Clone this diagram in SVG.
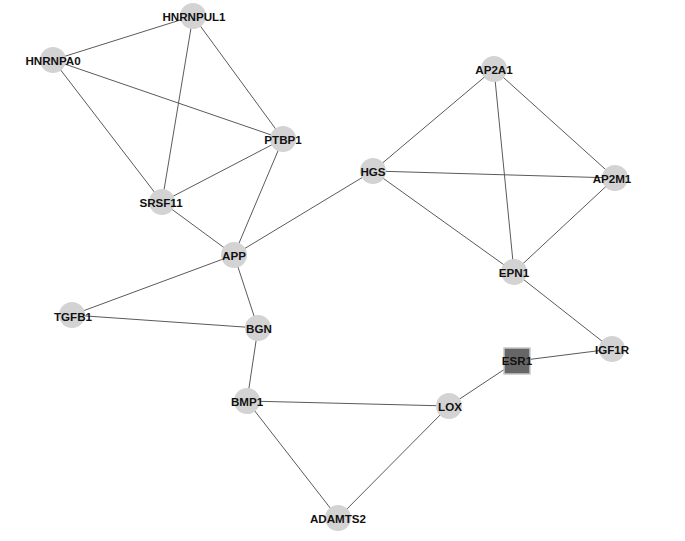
<svg xmlns="http://www.w3.org/2000/svg" width="685" height="541" viewBox="0 0 685 541">
<style>
.e{stroke:#5a5a5a;stroke-width:1;fill:none}
.n{fill:#d3d3d3;stroke:none}
.t{font-family:"Liberation Sans",Arial,sans-serif;font-weight:bold;font-size:11.6px;fill:#111;text-anchor:middle;dominant-baseline:central}
</style>
<rect width="685" height="541" fill="#fff"/>
<g id="edges">
<line class="e" x1="193" y1="16" x2="53" y2="60"/>
<line class="e" x1="193" y1="16" x2="162" y2="202"/>
<line class="e" x1="193" y1="16" x2="283" y2="139"/>
<line class="e" x1="53" y1="60" x2="283" y2="139"/>
<line class="e" x1="53" y1="60" x2="162" y2="202"/>
<line class="e" x1="162" y1="202" x2="283" y2="139"/>
<line class="e" x1="162" y1="202" x2="234" y2="255"/>
<line class="e" x1="283" y1="139" x2="234" y2="255"/>
<line class="e" x1="234" y1="255" x2="373" y2="171"/>
<line class="e" x1="234" y1="255" x2="72" y2="315"/>
<line class="e" x1="234" y1="255" x2="258" y2="328"/>
<line class="e" x1="72" y1="315" x2="258" y2="328"/>
<line class="e" x1="258" y1="328" x2="247" y2="401"/>
<line class="e" x1="247" y1="401" x2="449" y2="406"/>
<line class="e" x1="247" y1="401" x2="338" y2="518"/>
<line class="e" x1="449" y1="406" x2="338" y2="518"/>
<line class="e" x1="449" y1="406" x2="517" y2="361"/>
<line class="e" x1="517" y1="361" x2="612" y2="349"/>
<line class="e" x1="612" y1="349" x2="514" y2="272"/>
<line class="e" x1="373" y1="171" x2="494" y2="69"/>
<line class="e" x1="373" y1="171" x2="615" y2="178"/>
<line class="e" x1="373" y1="171" x2="514" y2="272"/>
<line class="e" x1="494" y1="69" x2="615" y2="178"/>
<line class="e" x1="494" y1="69" x2="514" y2="272"/>
<line class="e" x1="615" y1="178" x2="514" y2="272"/>
</g>
<g id="HNRNPUL1"><circle class="n" cx="193" cy="16" r="13"/><text class="t" x="194" y="16">HNRNPUL1</text></g>
<g id="HNRNPA0"><circle class="n" cx="53" cy="60" r="13"/><text class="t" x="53" y="60">HNRNPA0</text></g>
<g id="PTBP1"><circle class="n" cx="283" cy="139" r="13"/><text class="t" x="283" y="139">PTBP1</text></g>
<g id="SRSF11"><circle class="n" cx="162" cy="202" r="13"/><text class="t" x="161" y="202">SRSF11</text></g>
<g id="APP"><circle class="n" cx="234" cy="255" r="13"/><text class="t" x="234" y="255">APP</text></g>
<g id="TGFB1"><circle class="n" cx="72" cy="315" r="13"/><text class="t" x="73" y="316">TGFB1</text></g>
<g id="BGN"><circle class="n" cx="258" cy="328" r="13"/><text class="t" x="259" y="328">BGN</text></g>
<g id="HGS"><circle class="n" cx="373" cy="171" r="13"/><text class="t" x="373" y="171">HGS</text></g>
<g id="AP2A1"><circle class="n" cx="494" cy="69" r="13"/><text class="t" x="494" y="69">AP2A1</text></g>
<g id="AP2M1"><circle class="n" cx="615" cy="178" r="13"/><text class="t" x="612" y="178">AP2M1</text></g>
<g id="EPN1"><circle class="n" cx="514" cy="272" r="13"/><text class="t" x="514" y="272">EPN1</text></g>
<g id="IGF1R"><circle class="n" cx="612" cy="349" r="13"/><text class="t" x="612" y="349">IGF1R</text></g>
<g id="ESR1"><rect x="504" y="348" width="26" height="26" fill="#666" stroke="#c8c8c8" stroke-width="1.5"/><text class="t" x="517" y="360">ESR1</text></g>
<g id="LOX"><circle class="n" cx="449" cy="406" r="13"/><text class="t" x="450" y="406">LOX</text></g>
<g id="BMP1"><circle class="n" cx="247" cy="401" r="13"/><text class="t" x="247" y="401">BMP1</text></g>
<g id="ADAMTS2"><circle class="n" cx="338" cy="518" r="13"/><text class="t" x="338" y="518">ADAMTS2</text></g>
</svg>
